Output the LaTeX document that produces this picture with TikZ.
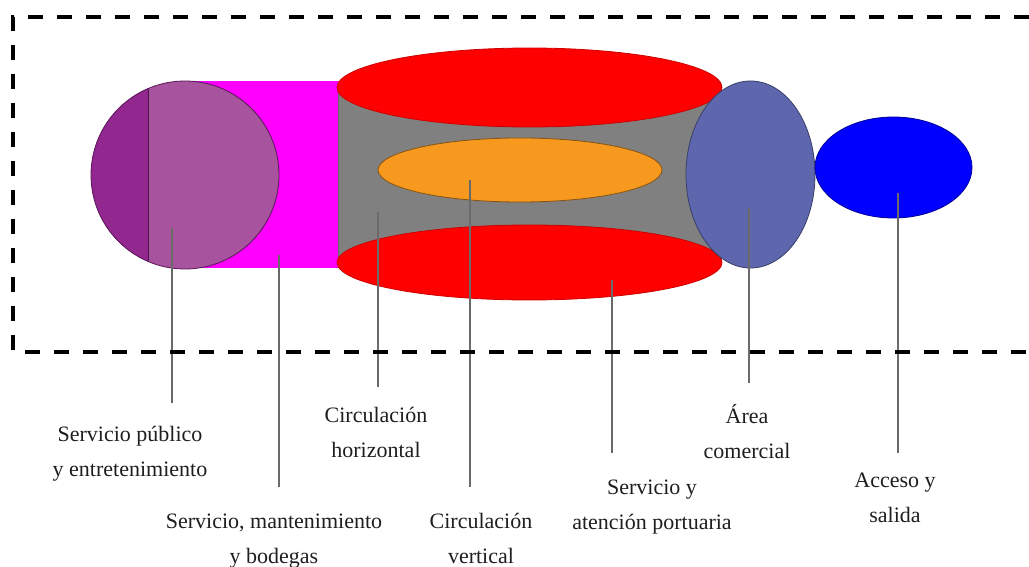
\documentclass[tikz,border=0pt]{standalone}
\usepackage{fontspec}
\setmainfont{Liberation Serif}
\usetikzlibrary{shapes.geometric}
\definecolor{purpD}{HTML}{92278F}
\definecolor{purpL}{HTML}{A8539E}
\definecolor{magen}{HTML}{FF00FF}
\definecolor{redF}{HTML}{FF0000}
\definecolor{grayF}{HTML}{808080}
\definecolor{orangeF}{HTML}{F7981F}
\definecolor{bgray}{HTML}{5E67AE}
\definecolor{blueF}{HTML}{0000FF}
\definecolor{txt}{HTML}{1E1E1E}
\definecolor{leadc}{HTML}{6A6A6A}
\begin{document}
\begin{tikzpicture}[x=1pt,y=-1pt,
  shapeE/.style={ellipse,inner sep=0pt,outer sep=0pt,line width=0.8pt},
  leader/.style={draw=leadc,line width=1.3pt},
  lab/.style={align=center,anchor=base,text=txt,inner sep=0pt,
    font=\fontsize{22}{35.5}\selectfont},
  frame/.style={line width=3.5pt,dash pattern=on 15pt off 14pt}]
\useasboundingbox (0,0) rectangle (1029,567);
% magenta rectangle
\fill[magen] (185,81) rectangle (342,268);
% purple circle
\fill[purpL] (185,175) circle[radius=94];
\begin{scope}
  \clip (80,60) rectangle (148,290);
  \fill[purpD] (185,175) circle[radius=94];
\end{scope}
\draw[draw=purpD!60!black,line width=0.8pt] (185,175) circle[radius=94];
\draw[draw=purpD!50!black,line width=1pt] (148,88.6) -- (148,261.4);
% cylinder body
\fill[grayF] (338,87.5) rectangle (722,262.5);
\draw[draw=black!60,line width=0.8pt] (338,87.5) -- (338,262.5);
\node[shapeE,fill=redF,draw=redF!80!black,minimum width=385pt,minimum height=75pt] (bot) at (529.5,262.5) {};
\node[shapeE,fill=redF,draw=redF!80!black,minimum width=385pt,minimum height=79pt] (top) at (529.5,87.5) {};
\node[shapeE,fill=orangeF,draw=orangeF!55!black,minimum width=284pt,minimum height=64pt] (orng) at (520,170) {};
\node[shapeE,fill=bgray,draw=bgray!60!black,minimum width=129pt,minimum height=187pt] (com) at (750.5,174.5) {};
\node[shapeE,fill=blueF,draw=blueF!60!black,minimum width=157pt,minimum height=101pt] (acc) at (893.5,167.5) {};
% leader ends
\coordinate (s1) at (172,228); \coordinate (e1) at (172,403);
\coordinate (s2) at (279,255); \coordinate (e2) at (279,487);
\coordinate (s3) at (378,212); \coordinate (e3) at (378,387);
\coordinate (s4) at (470,180); \coordinate (e4) at (470,487);
\coordinate (s5) at (612,280); \coordinate (e5) at (612,453);
\coordinate (s6) at (749,208); \coordinate (e6) at (749,383);
\coordinate (s7) at (898,193); \coordinate (e7) at (898,453);
\foreach \i in {1,...,7} {\draw[leader] (s\i) -- (e\i);}
% labels (anchor base = baseline of the last line)
\node[lab] (l1) at (130,476.5) {Servicio público\\y entretenimiento};
\node[lab] (l2) at (274,563.5) {Servicio, mantenimiento\\y bodegas};
\node[lab] (l3) at (376,457.5) {Circulación\\horizontal};
\node[lab] (l4) at (481,563.5) {Circulación\\vertical};
\node[lab] (l5) at (652,529.5) {Servicio y\\atención portuaria};
\node[lab] (l6) at (747,458.5) {Área\\comercial};
\node[lab] (l7) at (895,522.5) {Acceso y\\salida};
% dashed frame
\draw[frame] (1029,17) -- (13,17) -- (13,352) -- (1029,352);
\end{tikzpicture}
\end{document}
